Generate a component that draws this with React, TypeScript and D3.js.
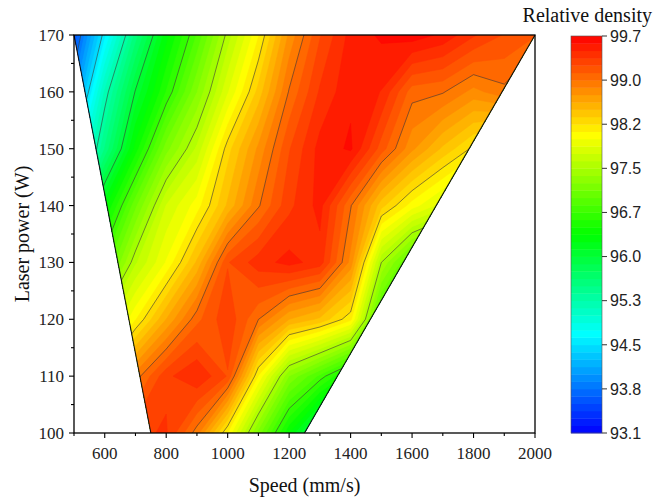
import React from "react";
import * as d3 from "d3";

// Scan speed grid (mm/s) and laser power rows (W), top row first
const speeds = [500, 600, 700, 800, 900, 1000, 1100, 1200, 1300, 1400, 1500, 1600, 1700, 1800, 1900, 2000];
const powers = [170, 160, 150, 140, 130, 120, 110, 100];

// Relative density (%) at each speed, one array per laser power
const density170 = [93.6, 94.65, 95.6, 96.35, 96.9, 97.55, 98.1, 98.75, 99.2, 99.5, 99.6, 99.65, 99.55, 99.35, 99.2, 99.1];
const density160 = [94.0, 95.2, 96.05, 96.65, 97.25, 97.85, 98.4, 98.98, 99.35, 99.55, 99.45, 99.02, 98.98, 98.8, 98.93, 98.7];
const density150 = [94.6, 95.55, 96.45, 97.2, 97.65, 98.3, 98.75, 99.2, 99.5, 99.6, 99.15, 98.75, 98.45, 98.2, 98.0, 97.8];
const density140 = [95.3, 96.35, 97.1, 97.75, 98.05, 98.5, 98.95, 99.3, 99.5, 98.98, 98.4, 98.05, 97.8, 97.5, 97.2, 97.0];
const density130 = [96.0, 96.9, 97.6, 98.0, 98.5, 99.2, 99.4, 99.5, 99.4, 98.8, 97.5, 96.9, 96.6, 96.3, 96.0, 95.8];
const density120 = [96.8, 97.6, 98.1, 98.6, 99.05, 99.3, 98.97, 98.6, 98.45, 98.15, 96.8, 96.2, 95.9, 95.6, 95.4, 95.2];
const density110 = [97.5, 98.3, 98.9, 99.3, 99.45, 99.2, 98.1, 97.25, 96.85, 96.4, 95.9, 95.5, 95.2, 95.0, 94.8, 94.6];
const density100 = [98.0, 98.8, 99.3, 99.35, 98.9, 98.1, 97.2, 96.4, 95.7, 95.2, 94.8, 94.5, 94.2, 94.0, 93.8, 93.6];

// Processing window: speed range covered at the lowest and highest power
const windowLow = { power: 100, from: 750, to: 1250 };
const windowHigh = { power: 170, from: 500, to: 2000 };

// Axis ticks and colour-bar labels
const speedMajor = [600, 800, 1000, 1200, 1400, 1600, 1800, 2000];
const speedMinor = [500, 700, 900, 1100, 1300, 1500, 1700, 1900];
const powerMajor = [100, 110, 120, 130, 140, 150, 160, 170];
const powerMinor = [105, 115, 125, 135, 145, 155, 165];
const scaleLabels = ["93.1", "93.8", "94.5", "95.3", "96.0", "96.7", "97.5", "98.2", "99.0", "99.7"];

const vMin = 93.1;
const vMax = 99.7;
const bandsPerLabel = 6;

const W = 654;
const H = 499;
const plot = { left: 74, right: 535, top: 35, bottom: 433 };
const bar = { left: 571, right: 602, top: 36, bottom: 433 };

export default function App() {
  const x = d3.scaleLinear().domain([500, 2000]).range([plot.left, plot.right]);
  const y = d3.scaleLinear().domain([100, 170]).range([plot.bottom, plot.top]);

  const rows = [density170, density160, density150, density140, density130, density120, density110, density100];
  const values = rows.flat();
  const nx = speeds.length;
  const ny = powers.length;

  const nBands = (scaleLabels.length - 1) * bandsPerLabel;
  const thresholds = d3.range(nBands).map((i) => vMin + ((vMax - vMin) * i) / nBands);
  const majorLevels = d3.range(scaleLabels.length).map((i) => vMin + ((vMax - vMin) * i) / (scaleLabels.length - 1));
  const step = (vMax - vMin) / nBands;

  const color = d3
    .scaleLinear<string>()
    .domain([93.1, 94.75, 96.4, 98.05, 99.7])
    .range(["#0000ff", "#00ffff", "#00ff00", "#ffff00", "#ff0000"])
    .clamp(true);

  // grid cell coordinates -> data -> pixels
  const speedAt = d3.scaleLinear().domain([0.5, nx - 0.5]).range([speeds[0], speeds[nx - 1]]);
  const powerAt = d3.scaleLinear().domain([0.5, ny - 0.5]).range([powers[0], powers[ny - 1]]);
  const projection = d3.geoTransform({
    point(px: number, py: number) {
      (this as any).stream.point(x(speedAt(px)), y(powerAt(py)));
    },
  });
  const path = d3.geoPath(projection);

  const bands = d3.contours().size([nx, ny]).thresholds(thresholds)(values);
  const lines = d3.contours().size([nx, ny]).thresholds(majorLevels)(values);

  const windowPts: [number, number][] = [
    [x(windowHigh.from), y(windowHigh.power)],
    [x(windowHigh.to), y(windowHigh.power)],
    [x(windowLow.to), y(windowLow.power)],
    [x(windowLow.from), y(windowLow.power)],
  ];
  const windowPath = "M" + windowPts.map((p) => p.join(",")).join("L") + "Z";

  const barY = d3.scaleLinear().domain([vMin, vMax]).range([bar.bottom, bar.top]);

  const serif = "'Liberation Serif', 'Times New Roman', serif";
  const sans = "'Liberation Sans', Arial, sans-serif";

  return (
    <svg width={W} height={H} style={{ display: "block", position: "absolute", left: 0, top: 0 }}>
      <rect width={W} height={H} fill="#ffffff" />
      <defs>
        <clipPath id="window-clip">
          <path d={windowPath} />
        </clipPath>
      </defs>

      <g clipPath="url(#window-clip)">
        {bands.map((c, i) => (
          <path
            key={i}
            d={path(c as any) || ""}
            fill={color(c.value + step / 2)}
            stroke={color(c.value + step / 2)}
            strokeWidth={0.6}
          />
        ))}
        {lines.map((c, i) => (
          <path key={"l" + i} d={path(c as any) || ""} fill="none" stroke="#3a3a3a" strokeWidth={0.7} strokeOpacity={0.85} />
        ))}
      </g>

      {/* window edges */}
      <line x1={windowPts[0][0]} y1={windowPts[0][1]} x2={windowPts[3][0]} y2={windowPts[3][1]} stroke="#111" strokeWidth={1.1} />
      <line x1={windowPts[1][0]} y1={windowPts[1][1]} x2={windowPts[2][0]} y2={windowPts[2][1]} stroke="#111" strokeWidth={1.1} />

      {/* frame */}
      <rect
        x={plot.left}
        y={plot.top}
        width={plot.right - plot.left}
        height={plot.bottom - plot.top}
        fill="none"
        stroke="#000"
        strokeWidth={1.3}
      />

      {/* x axis */}
      {speedMajor.map((s) => (
        <g key={"xm" + s}>
          <line x1={x(s)} x2={x(s)} y1={plot.bottom} y2={plot.bottom + 5} stroke="#000" strokeWidth={1.1} />
          <text x={x(s)} y={plot.bottom + 26} textAnchor="middle" fontFamily={serif} fontSize={17} fill="#222">
            {s}
          </text>
        </g>
      ))}
      {speedMinor.map((s) => (
        <line key={"xn" + s} x1={x(s)} x2={x(s)} y1={plot.bottom} y2={plot.bottom + 3} stroke="#000" strokeWidth={1.1} />
      ))}
      <text x={(plot.left + plot.right) / 2} y={492} textAnchor="middle" fontFamily={serif} fontSize={20} fill="#111">
        Speed (mm/s)
      </text>

      {/* y axis */}
      {powerMajor.map((p) => (
        <g key={"ym" + p}>
          <line x1={plot.left - 5} x2={plot.left} y1={y(p)} y2={y(p)} stroke="#000" strokeWidth={1.1} />
          <text x={plot.left - 10} y={y(p)} dy="0.35em" textAnchor="end" fontFamily={serif} fontSize={17} fill="#222">
            {p}
          </text>
        </g>
      ))}
      {powerMinor.map((p) => (
        <line key={"yn" + p} x1={plot.left - 3} x2={plot.left} y1={y(p)} y2={y(p)} stroke="#000" strokeWidth={1.1} />
      ))}
      <text
        transform={`translate(29, ${(plot.top + plot.bottom) / 2}) rotate(-90)`}
        textAnchor="middle"
        fontFamily={serif}
        fontSize={20}
        fill="#111"
      >
        Laser power (W)
      </text>

      {/* colour scale */}
      {thresholds.map((t, i) => (
        <rect
          key={"b" + i}
          x={bar.left}
          width={bar.right - bar.left}
          y={barY(t + step)}
          height={barY(t) - barY(t + step) + 0.4}
          fill={color(t + step / 2)}
        />
      ))}
      <rect
        x={bar.left}
        y={bar.top}
        width={bar.right - bar.left}
        height={bar.bottom - bar.top}
        fill="none"
        stroke="#555"
        strokeWidth={0.6}
      />
      {scaleLabels.map((lab, i) => (
        <g key={"s" + i}>
          <line x1={bar.right} x2={bar.right + 5} y1={barY(majorLevels[i])} y2={barY(majorLevels[i])} stroke="#333" strokeWidth={1} />
          <text x={bar.right + 8} y={barY(majorLevels[i])} dy="0.36em" fontFamily={sans} fontSize={16} fill="#222">
            {lab}
          </text>
        </g>
      ))}
      <text x={652} y={22} textAnchor="end" fontFamily={serif} fontSize={20} fill="#111">
        Relative density
      </text>
    </svg>
  );
}
